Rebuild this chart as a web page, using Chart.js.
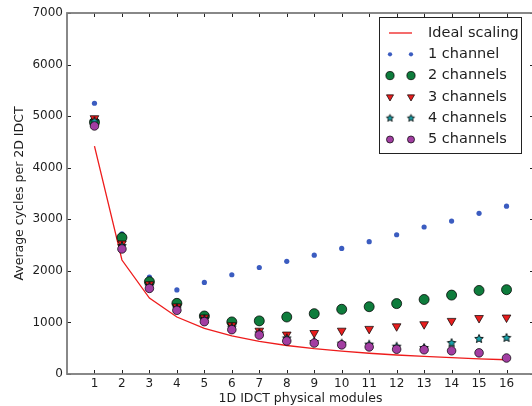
<!DOCTYPE html>
<html>
<head>
<meta charset="utf-8">
<script src="https://cdn.jsdelivr.net/npm/chart.js@4/dist/chart.umd.min.js"></script>
<style>
  html, body { margin: 0; padding: 0; overflow: hidden; background: #fff; }
  canvas { display: block; }
</style>
</head>
<body>
<canvas id="idctChart" width="540" height="406"></canvas>
<script>
// values
const modules = [1, 2, 3, 4, 5, 6, 7, 8, 9, 10, 11, 12, 13, 14, 15, 16];
const idealScaling = [4420, 2210, 1473, 1105, 884, 737, 631, 553, 491, 442, 402, 368, 340, 316, 295, 276];
const oneChannel = [5250, 2720, 1880, 1630, 1775, 1925, 2065, 2185, 2305, 2435, 2565, 2700, 2850, 2965, 3115, 3255];
const twoChannels = [4880, 2645, 1790, 1370, 1125, 1010, 1030, 1105, 1170, 1255, 1305, 1365, 1445, 1530, 1620, 1635];
const threeChannels = [4960, 2530, 1740, 1310, 1095, 945, 840, 765, 795, 840, 875, 925, 965, 1030, 1085, 1095];
const fourChannels = [4900, 2480, 1700, 1270, 1060, 900, 790, 690, 620, 590, 570, 530, 505, 600, 680, 700];
const fiveChannels = [4810, 2425, 1660, 1235, 1015, 860, 755, 640, 600, 565, 525, 480, 470, 450, 410, 310];
const yTicks = [0, 1000, 2000, 3000, 4000, 5000, 6000, 7000];

const FONT = 'DejaVu Sans';
const TEXT_COLOR = '#1e1e1e';
const SPINE_COLOR = '#7c7c7c';

function toPoints(values) {
    return modules.map((m, i) => ({ x: m, y: values[i] }));
}

function makeStar(fill, r) {
    const c = document.createElement('canvas');
    const s = Math.ceil(r * 2 + 3);
    c.width = c.height = s;
    const g = c.getContext('2d');
    g.beginPath();
    for (let i = 0; i < 10; i++) {
        const a = -Math.PI / 2 + i * Math.PI / 5;
        const rr = i % 2 ? r * 0.45 : r;
        g.lineTo(s / 2 + rr * Math.cos(a), s / 2 + rr * Math.sin(a));
    }
    g.closePath();
    g.fillStyle = fill;
    g.fill();
    g.strokeStyle = 'rgba(0,0,0,0.85)';
    g.lineWidth = 1;
    g.stroke();
    return c;
}

function scatterSet(label, values, style, order) {
    return Object.assign({
        type: 'scatter',
        label,
        data: toPoints(values),
        showLine: false,
        order
    }, style);
}

const datasets = [
    {
        type: 'line',
        label: 'Ideal scaling',
        data: toPoints(idealScaling),
        borderColor: '#ee1c1c',
        borderWidth: 1.3,
        pointRadius: 0,
        fill: false,
        tension: 0,
        order: 6
    },
    scatterSet('1 channel', oneChannel, {
        pointStyle: 'circle', pointRadius: 2.6, pointBackgroundColor: '#3b5cc0',
        pointBorderWidth: 0, pointBorderColor: '#3b5cc0'
    }, 5),
    scatterSet('2 channels', twoChannels, {
        pointStyle: 'circle', pointRadius: 5, pointBackgroundColor: '#0e7c3c',
        pointBorderWidth: 1, pointBorderColor: 'rgba(0,0,0,0.75)'
    }, 4),
    scatterSet('3 channels', threeChannels, {
        pointStyle: 'triangle', pointRotation: 180, pointRadius: 5, pointBackgroundColor: '#e81e1e',
        pointBorderWidth: 1, pointBorderColor: 'rgba(0,0,0,0.7)'
    }, 3),
    scatterSet('4 channels', fourChannels, {
        pointStyle: makeStar('#17a2aa', 4.5), pointRadius: 4.5, pointBackgroundColor: '#17a2aa',
        pointBorderWidth: 1, pointBorderColor: 'rgba(0,0,0,0.85)'
    }, 2),
    scatterSet('5 channels', fiveChannels, {
        pointStyle: 'circle', pointRadius: 4.3, pointBackgroundColor: '#a23ea2',
        pointBorderWidth: 1, pointBorderColor: 'rgba(0,0,0,0.7)'
    }, 1)
];

// frame with inward tick marks, like the original plot
const framePlugin = {
    id: 'frame',
    afterDatasetsDraw(chart) {
        const { ctx, chartArea: a, scales } = chart;
        ctx.save();
        ctx.strokeStyle = '#222';
        ctx.lineWidth = 1;
        ctx.beginPath();
        modules.forEach(m => {
            const px = Math.round(scales.x.getPixelForValue(m)) + 0.5;
            ctx.moveTo(px, a.bottom); ctx.lineTo(px, a.bottom - 4);
            ctx.moveTo(px, a.top); ctx.lineTo(px, a.top + 4);
        });
        yTicks.forEach(v => {
            const py = Math.round(scales.y.getPixelForValue(v)) + 0.5;
            ctx.moveTo(a.left, py); ctx.lineTo(a.left + 4, py);
            ctx.moveTo(a.right, py); ctx.lineTo(a.right - 4, py);
        });
        ctx.stroke();
        ctx.strokeStyle = SPINE_COLOR;
        ctx.lineWidth = 1.8;
        ctx.strokeRect(a.left, a.top, a.right - a.left, a.bottom - a.top);
        ctx.restore();
    }
};

// matplotlib-style legend: two markers per entry, boxed, upper right
const legendPlugin = {
    id: 'mplLegend',
    afterDraw(chart) {
        const { ctx } = chart;
        const box = { x: 379, y: 17, w: 142, h: 136 };
        ctx.save();
        ctx.fillStyle = '#fff';
        ctx.fillRect(box.x, box.y, box.w, box.h);
        ctx.strokeStyle = '#222';
        ctx.lineWidth = 1;
        ctx.strokeRect(box.x + 0.5, box.y + 0.5, box.w, box.h);
        ctx.font = `14.5px "${FONT}"`;
        ctx.textBaseline = 'middle';
        chart.data.datasets.forEach((ds, i) => {
            const y = 33 + i * 21.3;
            if (ds.type === 'line') {
                ctx.strokeStyle = ds.borderColor;
                ctx.lineWidth = ds.borderWidth;
                ctx.beginPath();
                ctx.moveTo(389, y); ctx.lineTo(412, y);
                ctx.stroke();
            } else {
                [390, 411].forEach(x => {
                    ctx.fillStyle = ds.pointBackgroundColor;
                    ctx.strokeStyle = ds.pointBorderColor;
                    ctx.lineWidth = ds.pointBorderWidth;
                    const style = ds.pointStyle === 'circle' || ds.pointStyle === 'triangle'
                        ? ds.pointStyle : makeStar(ds.pointBackgroundColor, 3.8);
                    Chart.helpers.drawPoint(ctx, {
                        pointStyle: style,
                        rotation: ds.pointRotation || 0,
                        radius: ds.pointRadius * 0.82,
                        borderWidth: ds.pointBorderWidth
                    }, x, y);
                });
            }
            ctx.fillStyle = TEXT_COLOR;
            ctx.fillText(ds.label, 428, y);
        });
        ctx.restore();
    }
};

new Chart(document.getElementById('idctChart'), {
    type: 'scatter',
    data: { datasets },
    options: {
        responsive: false,
        animation: false,
        devicePixelRatio: 1,
        layout: { padding: { top: 13, right: 6, left: 0, bottom: 0 } },
        plugins: {
            legend: { display: false },
            tooltip: { enabled: false }
        },
        scales: {
            x: {
                type: 'linear',
                min: 0,
                max: 17,
                afterFit: (s) => { s.height = 32; },
                grid: { display: false, drawTicks: false },
                border: { display: false },
                ticks: {
                    stepSize: 1,
                    autoSkip: false,
                    maxRotation: 0,
                    padding: 3,
                    color: TEXT_COLOR,
                    font: { family: FONT, size: 12 },
                    callback: (v) => (v >= 1 && v <= 16 ? String(v) : '')
                },
                title: {
                    display: true,
                    text: '1D IDCT physical modules',
                    color: TEXT_COLOR,
                    font: { family: FONT, size: 12.5 },
                    padding: { top: 0, bottom: 0 }
                }
            },
            y: {
                min: 0,
                max: 7000,
                afterFit: (s) => { s.width = 67; },
                grid: { display: false, drawTicks: false },
                border: { display: false },
                ticks: {
                    stepSize: 1000,
                    padding: 4,
                    color: TEXT_COLOR,
                    font: { family: FONT, size: 12 },
                    callback: (v) => String(v)
                },
                title: {
                    display: true,
                    text: 'Average cycles per 2D IDCT',
                    color: TEXT_COLOR,
                    font: { family: FONT, size: 12.5 },
                    padding: { top: 12, bottom: 0 }
                }
            }
        }
    },
    plugins: [framePlugin, legendPlugin]
});
</script>
</body>
</html>
